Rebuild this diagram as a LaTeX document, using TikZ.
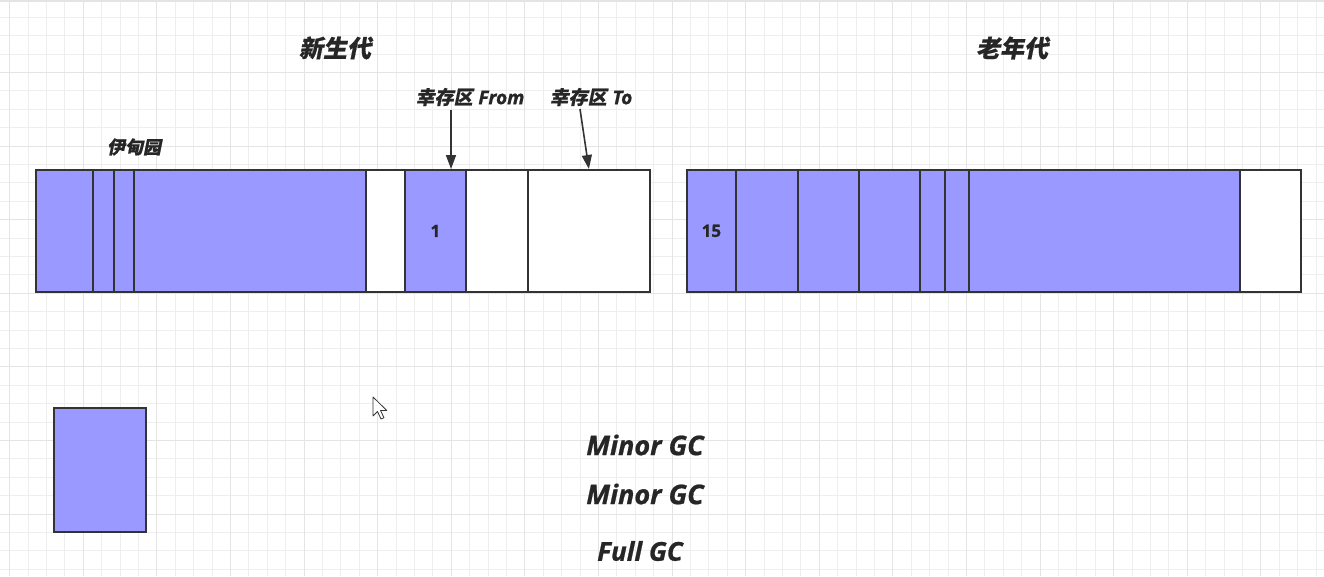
\documentclass[tikz,border=0pt]{standalone}
\usepackage{fontspec}
\usetikzlibrary{arrows.meta}
\newfontfamily\cjk[FakeSlant=0.2,FakeBold=0.6]{Noto Sans CJK SC}
\newfontfamily\lat[FakeBold=0.8]{Open Sans}
\definecolor{fillc}{HTML}{9999FF}
\definecolor{linec}{HTML}{333333}
\definecolor{txtc}{HTML}{262626}
\definecolor{gridminor}{HTML}{EEEEEE}
\definecolor{gridmajor}{HTML}{E4E4E4}
\begin{document}
\begin{tikzpicture}[x=1pt,y=-1pt,
  cell/.style={draw=linec, line width=1.8pt, minimum height=122pt, inner sep=0pt, anchor=north west, fill=white},
  used/.style={cell, fill=fillc},
  title/.style={text=txtc, font=\cjk\bfseries\fontsize{24}{27}\selectfont, anchor=center},
  lbl/.style={text=txtc, font=\fontsize{19}{22}\selectfont, anchor=center, inner sep=0pt},
  gc/.style={text=txtc, font=\lat\bfseries\itshape\fontsize{27}{30}\selectfont, anchor=center},
  num/.style={text=txtc, font=\lat\bfseries\fontsize{17}{19}\selectfont},
  arr/.style={draw=linec, line width=1.6pt, -{Triangle[length=14pt,width=10pt]}},
  minorline/.style={draw=gridminor, line width=1pt},
  majorline/.style={draw=gridmajor, line width=1pt}]
\useasboundingbox (0,0) rectangle (1324,576);
\fill[white] (0,0) rectangle (1324,576);
% grid
\foreach \i in {0,...,71} {\draw[minorline] ({round(9.2+18.4*\i)+0.5},0) -- ({round(9.2+18.4*\i)+0.5},576);}
\foreach \i in {0,...,30} {\draw[minorline] (0,{round(16.8+18.4*\i)+0.5}) -- (1324,{round(16.8+18.4*\i)+0.5});}
\foreach \i in {0,...,17} {\draw[majorline] ({round(9.2+73.6*\i)+0.5},0) -- ({round(9.2+73.6*\i)+0.5},576);}
\foreach \i in {-1,...,7} {\draw[majorline] (0,{round(72+73.6*\i)+0.5}) -- (1324,{round(72+73.6*\i)+0.5});}
\draw[draw=gridmajor, line width=2pt] (0,1) -- (1324,1);

% titles
\node[title] (young) at (335,48) {新生代};
\node[title] (old) at (1012,48) {老年代};

% young generation cells
\node[used, minimum width=57pt] (e1) at (35,169) {};
\node[used, minimum width=21pt] (e2) at (92,169) {};
\node[used, minimum width=20pt] (e3) at (113,169) {};
\node[used, minimum width=232pt] (e4) at (133,169) {};
\node[cell, minimum width=39pt] (e5) at (365,169) {};
\node[used, minimum width=61pt] (from) at (404,169) {};
\node[num] (one) at (from.center) {1};
\node[cell, minimum width=62pt] (s3) at (465,169) {};
\node[cell, minimum width=122pt] (to) at (527,169) {};

% old generation cells
\node[used, minimum width=49pt] (o1) at (686,169) {};
\node[num] (fifteen) at (o1.center) {15};
\node[used, minimum width=62pt] (o2) at (735,169) {};
\node[used, minimum width=61pt] (o3) at (797,169) {};
\node[used, minimum width=61pt] (o4) at (858,169) {};
\node[used, minimum width=25pt] (o5) at (919,169) {};
\node[used, minimum width=24pt] (o6) at (944,169) {};
\node[used, minimum width=271pt] (o7) at (968,169) {};
\node[cell, minimum width=61pt] (o8) at (1239,169) {};

% labels
\node[lbl] (eden) at (134,147) {\cjk\bfseries\fontsize{18}{20}\selectfont 伊甸园};
\node[lbl] (fromlbl) at (470,97) {{\cjk\bfseries 幸存区} {\lat\bfseries\itshape From}};
\node[lbl] (tolbl) at (591,97) {{\cjk\bfseries 幸存区} {\lat\bfseries\itshape To}};

\coordinate (fa) at (451,110);
\coordinate (ta) at (580,109);
\draw[arr] (fa) -- (fa |- from.north);
\draw[arr] (ta) -- (to.north);

% single object
\node[used, anchor=north west, minimum width=92pt, minimum height=124pt] (obj) at (53,407) {};

% GC texts
\node[gc] (gc1) at (645,445) {Minor GC};
\node[gc] (gc2) at (645,494) {Minor GC};
\node[gc, font=\lat\bfseries\itshape\fontsize{26}{29}\selectfont] (gc3) at (640,551) {Full GC};

% mouse cursor
\draw[draw=linec, fill=white, line width=0.8pt, line join=round]
  (373,397) -- ++(0,19) -- ++(4.5,-4.5) -- ++(3.5,7.5) -- ++(3,-1.3) -- ++(-3.5,-7.2) -- ++(6.3,0) -- cycle;
\end{tikzpicture}
\end{document}
